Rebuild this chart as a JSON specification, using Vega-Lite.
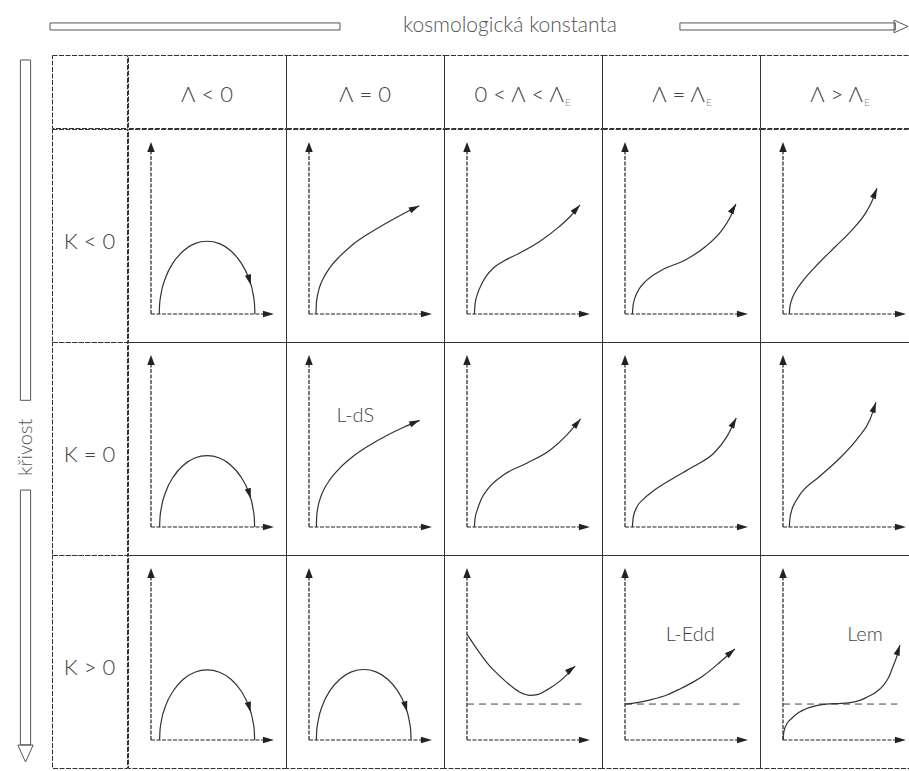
{
  "$schema": "https://vega.github.io/schema/vega-lite/v6.json",
  "background": "white",
  "padding": 0,
  "config": {
    "view": {"stroke": "#333", "strokeDash": [5, 1.5], "strokeWidth": 1},
    "text": {"font": "Lato", "fontWeight": 300, "color": "#444"},
    "concat": {"spacing": 0},
    "facet": {"spacing": 0}
  },
  "datasets": {
    "headers": [
      {"L": "Λ < 0", "main": "Λ < 0", "sub": ""},
      {"L": "Λ = 0", "main": "Λ = 0", "sub": ""},
      {"L": "0 < Λ < ΛE", "main": "0 < Λ < Λ", "sub": "E"},
      {"L": "Λ = ΛE", "main": "Λ = Λ", "sub": "E"},
      {"L": "Λ > ΛE", "main": "Λ > Λ", "sub": "E"}
    ],
    "rows": [{"K": "K < 0"}, {"K": "K = 0"}, {"K": "K > 0"}],
    "cells": [
      {"K": "K < 0", "L": "Λ < 0", "part": "curve", "i": 0, "u": 0.67, "v": 0},
      {"K": "K < 0", "L": "Λ < 0", "part": "curve", "i": 1, "u": 0.70, "v": 0.55},
      {"K": "K < 0", "L": "Λ < 0", "part": "curve", "i": 2, "u": 0.80, "v": 1.10},
      {"K": "K < 0", "L": "Λ < 0", "part": "curve", "i": 3, "u": 1.19, "v": 2.12},
      {"K": "K < 0", "L": "Λ < 0", "part": "curve", "i": 4, "u": 1.81, "v": 2.99},
      {"K": "K < 0", "L": "Λ < 0", "part": "curve", "i": 5, "u": 2.62, "v": 3.66},
      {"K": "K < 0", "L": "Λ < 0", "part": "curve", "i": 6, "u": 3.55, "v": 4.09},
      {"K": "K < 0", "L": "Λ < 0", "part": "curve", "i": 7, "u": 4.56, "v": 4.23},
      {"K": "K < 0", "L": "Λ < 0", "part": "curve", "i": 8, "u": 5.57, "v": 4.09},
      {"K": "K < 0", "L": "Λ < 0", "part": "curve", "i": 9, "u": 6.51, "v": 3.66},
      {"K": "K < 0", "L": "Λ < 0", "part": "curve", "i": 10, "u": 7.31, "v": 2.99},
      {"K": "K < 0", "L": "Λ < 0", "part": "curve", "i": 11, "u": 7.93, "v": 2.12},
      {"K": "K < 0", "L": "Λ < 0", "part": "curve", "i": 12, "u": 8.32, "v": 1.10},
      {"K": "K < 0", "L": "Λ < 0", "part": "curve", "i": 13, "u": 8.42, "v": 0.55},
      {"K": "K < 0", "L": "Λ < 0", "part": "curve", "i": 14, "u": 8.45, "v": 0},
      {"K": "K < 0", "L": "Λ < 0", "part": "head", "u": 8.12, "v": 1.69, "ang": 164},

      {"K": "K < 0", "L": "Λ = 0", "part": "curve", "i": 0, "u": 0.57, "v": 0},
      {"K": "K < 0", "L": "Λ = 0", "part": "curve", "i": 1, "u": 0.60, "v": 0.6},
      {"K": "K < 0", "L": "Λ = 0", "part": "curve", "i": 2, "u": 0.70, "v": 1.1},
      {"K": "K < 0", "L": "Λ = 0", "part": "curve", "i": 3, "u": 0.88, "v": 1.6},
      {"K": "K < 0", "L": "Λ = 0", "part": "curve", "i": 4, "u": 1.2, "v": 2.12},
      {"K": "K < 0", "L": "Λ = 0", "part": "curve", "i": 5, "u": 1.7, "v": 2.7},
      {"K": "K < 0", "L": "Λ = 0", "part": "curve", "i": 6, "u": 2.5, "v": 3.35},
      {"K": "K < 0", "L": "Λ = 0", "part": "curve", "i": 7, "u": 3.5, "v": 4.0},
      {"K": "K < 0", "L": "Λ = 0", "part": "curve", "i": 8, "u": 4.8, "v": 4.65},
      {"K": "K < 0", "L": "Λ = 0", "part": "curve", "i": 9, "u": 6.2, "v": 5.25},
      {"K": "K < 0", "L": "Λ = 0", "part": "curve", "i": 10, "u": 7.6, "v": 5.8},
      {"K": "K < 0", "L": "Λ = 0", "part": "curve", "i": 11, "u": 8.97, "v": 6.29},
      {"K": "K < 0", "L": "Λ = 0", "part": "head", "u": 8.97, "v": 6.29, "ang": 64},

      {"K": "K < 0", "L": "0 < Λ < ΛE", "part": "curve", "i": 0, "u": 0.6, "v": 0},
      {"K": "K < 0", "L": "0 < Λ < ΛE", "part": "curve", "i": 1, "u": 0.66, "v": 0.6},
      {"K": "K < 0", "L": "0 < Λ < ΛE", "part": "curve", "i": 2, "u": 0.87, "v": 1.2},
      {"K": "K < 0", "L": "0 < Λ < ΛE", "part": "curve", "i": 3, "u": 1.2, "v": 1.75},
      {"K": "K < 0", "L": "0 < Λ < ΛE", "part": "curve", "i": 4, "u": 1.54, "v": 2.17},
      {"K": "K < 0", "L": "0 < Λ < ΛE", "part": "curve", "i": 5, "u": 2.2, "v": 2.7},
      {"K": "K < 0", "L": "0 < Λ < ΛE", "part": "curve", "i": 6, "u": 2.9, "v": 3.04},
      {"K": "K < 0", "L": "0 < Λ < ΛE", "part": "curve", "i": 7, "u": 4.25, "v": 3.53},
      {"K": "K < 0", "L": "0 < Λ < ΛE", "part": "curve", "i": 8, "u": 5.88, "v": 4.2},
      {"K": "K < 0", "L": "0 < Λ < ΛE", "part": "curve", "i": 9, "u": 7.5, "v": 5.08},
      {"K": "K < 0", "L": "0 < Λ < ΛE", "part": "curve", "i": 10, "u": 8.4, "v": 5.67},
      {"K": "K < 0", "L": "0 < Λ < ΛE", "part": "curve", "i": 11, "u": 9.19, "v": 6.34},
      {"K": "K < 0", "L": "0 < Λ < ΛE", "part": "head", "u": 9.19, "v": 6.34, "ang": 42},

      {"K": "K < 0", "L": "Λ = ΛE", "part": "curve", "i": 0, "u": 0.6, "v": 0},
      {"K": "K < 0", "L": "Λ = ΛE", "part": "curve", "i": 1, "u": 0.66, "v": 0.5},
      {"K": "K < 0", "L": "Λ = ΛE", "part": "curve", "i": 2, "u": 0.84, "v": 1.0},
      {"K": "K < 0", "L": "Λ = ΛE", "part": "curve", "i": 3, "u": 1.15, "v": 1.45},
      {"K": "K < 0", "L": "Λ = ΛE", "part": "curve", "i": 4, "u": 1.65, "v": 1.88},
      {"K": "K < 0", "L": "Λ = ΛE", "part": "curve", "i": 5, "u": 3.0, "v": 2.56},
      {"K": "K < 0", "L": "Λ = ΛE", "part": "curve", "i": 6, "u": 4.9, "v": 3.14},
      {"K": "K < 0", "L": "Λ = ΛE", "part": "curve", "i": 7, "u": 6.53, "v": 3.91},
      {"K": "K < 0", "L": "Λ = ΛE", "part": "curve", "i": 8, "u": 7.89, "v": 4.88},
      {"K": "K < 0", "L": "Λ = ΛE", "part": "curve", "i": 9, "u": 8.5, "v": 5.55},
      {"K": "K < 0", "L": "Λ = ΛE", "part": "curve", "i": 10, "u": 9.02, "v": 6.4},
      {"K": "K < 0", "L": "Λ = ΛE", "part": "head", "u": 9.02, "v": 6.4, "ang": 30},

      {"K": "K < 0", "L": "Λ > ΛE", "part": "curve", "i": 0, "u": 0.51, "v": 0},
      {"K": "K < 0", "L": "Λ > ΛE", "part": "curve", "i": 1, "u": 0.56, "v": 0.4},
      {"K": "K < 0", "L": "Λ > ΛE", "part": "curve", "i": 2, "u": 0.72, "v": 0.85},
      {"K": "K < 0", "L": "Λ > ΛE", "part": "curve", "i": 3, "u": 1.05, "v": 1.35},
      {"K": "K < 0", "L": "Λ > ΛE", "part": "curve", "i": 4, "u": 1.54, "v": 1.85},
      {"K": "K < 0", "L": "Λ > ΛE", "part": "curve", "i": 5, "u": 2.9, "v": 2.95},
      {"K": "K < 0", "L": "Λ > ΛE", "part": "curve", "i": 6, "u": 4.25, "v": 3.91},
      {"K": "K < 0", "L": "Λ > ΛE", "part": "curve", "i": 7, "u": 5.6, "v": 4.88},
      {"K": "K < 0", "L": "Λ > ΛE", "part": "curve", "i": 8, "u": 6.7, "v": 5.85},
      {"K": "K < 0", "L": "Λ > ΛE", "part": "curve", "i": 9, "u": 7.2, "v": 6.5},
      {"K": "K < 0", "L": "Λ > ΛE", "part": "curve", "i": 10, "u": 7.64, "v": 7.31},
      {"K": "K < 0", "L": "Λ > ΛE", "part": "head", "u": 7.64, "v": 7.31, "ang": 22},

      {"K": "K = 0", "L": "Λ < 0", "part": "curve", "i": 0, "u": 0.70, "v": 0},
      {"K": "K = 0", "L": "Λ < 0", "part": "curve", "i": 1, "u": 0.73, "v": 0.54},
      {"K": "K = 0", "L": "Λ < 0", "part": "curve", "i": 2, "u": 0.83, "v": 1.07},
      {"K": "K = 0", "L": "Λ < 0", "part": "curve", "i": 3, "u": 1.22, "v": 2.08},
      {"K": "K = 0", "L": "Λ < 0", "part": "curve", "i": 4, "u": 1.83, "v": 2.93},
      {"K": "K = 0", "L": "Λ < 0", "part": "curve", "i": 5, "u": 2.63, "v": 3.59},
      {"K": "K = 0", "L": "Λ < 0", "part": "curve", "i": 6, "u": 3.56, "v": 4.01},
      {"K": "K = 0", "L": "Λ < 0", "part": "curve", "i": 7, "u": 4.565, "v": 4.15},
      {"K": "K = 0", "L": "Λ < 0", "part": "curve", "i": 8, "u": 5.57, "v": 4.01},
      {"K": "K = 0", "L": "Λ < 0", "part": "curve", "i": 9, "u": 6.50, "v": 3.59},
      {"K": "K = 0", "L": "Λ < 0", "part": "curve", "i": 10, "u": 7.30, "v": 2.93},
      {"K": "K = 0", "L": "Λ < 0", "part": "curve", "i": 11, "u": 7.91, "v": 2.08},
      {"K": "K = 0", "L": "Λ < 0", "part": "curve", "i": 12, "u": 8.30, "v": 1.07},
      {"K": "K = 0", "L": "Λ < 0", "part": "curve", "i": 13, "u": 8.40, "v": 0.54},
      {"K": "K = 0", "L": "Λ < 0", "part": "curve", "i": 14, "u": 8.43, "v": 0},
      {"K": "K = 0", "L": "Λ < 0", "part": "head", "u": 8.11, "v": 1.65, "ang": 164},

      {"K": "K = 0", "L": "Λ = 0", "part": "curve", "i": 0, "u": 0.6, "v": 0},
      {"K": "K = 0", "L": "Λ = 0", "part": "curve", "i": 1, "u": 0.63, "v": 0.65},
      {"K": "K = 0", "L": "Λ = 0", "part": "curve", "i": 2, "u": 0.72, "v": 1.13},
      {"K": "K = 0", "L": "Λ = 0", "part": "curve", "i": 3, "u": 0.9, "v": 1.63},
      {"K": "K = 0", "L": "Λ = 0", "part": "curve", "i": 4, "u": 1.2, "v": 2.16},
      {"K": "K = 0", "L": "Λ = 0", "part": "curve", "i": 5, "u": 1.7, "v": 2.75},
      {"K": "K = 0", "L": "Λ = 0", "part": "curve", "i": 6, "u": 2.5, "v": 3.42},
      {"K": "K = 0", "L": "Λ = 0", "part": "curve", "i": 7, "u": 3.6, "v": 4.11},
      {"K": "K = 0", "L": "Λ = 0", "part": "curve", "i": 8, "u": 4.9, "v": 4.74},
      {"K": "K = 0", "L": "Λ = 0", "part": "curve", "i": 9, "u": 6.4, "v": 5.35},
      {"K": "K = 0", "L": "Λ = 0", "part": "curve", "i": 10, "u": 7.7, "v": 5.80},
      {"K": "K = 0", "L": "Λ = 0", "part": "curve", "i": 11, "u": 9.0, "v": 6.2},
      {"K": "K = 0", "L": "Λ = 0", "part": "head", "u": 9.0, "v": 6.2, "ang": 67},
      {"K": "K = 0", "L": "Λ = 0", "part": "name", "u": 3.77, "v": 6.45, "txt": "L-dS"},

      {"K": "K = 0", "L": "0 < Λ < ΛE", "part": "curve", "i": 0, "u": 0.6, "v": 0},
      {"K": "K = 0", "L": "0 < Λ < ΛE", "part": "curve", "i": 1, "u": 0.66, "v": 0.5},
      {"K": "K = 0", "L": "0 < Λ < ΛE", "part": "curve", "i": 2, "u": 0.84, "v": 1.0},
      {"K": "K = 0", "L": "0 < Λ < ΛE", "part": "curve", "i": 3, "u": 1.15, "v": 1.6},
      {"K": "K = 0", "L": "0 < Λ < ΛE", "part": "curve", "i": 4, "u": 1.65, "v": 2.17},
      {"K": "K = 0", "L": "0 < Λ < ΛE", "part": "curve", "i": 5, "u": 3.0, "v": 3.04},
      {"K": "K = 0", "L": "0 < Λ < ΛE", "part": "curve", "i": 6, "u": 4.9, "v": 3.72},
      {"K": "K = 0", "L": "0 < Λ < ΛE", "part": "curve", "i": 7, "u": 6.8, "v": 4.49},
      {"K": "K = 0", "L": "0 < Λ < ΛE", "part": "curve", "i": 8, "u": 8.15, "v": 5.37},
      {"K": "K = 0", "L": "0 < Λ < ΛE", "part": "curve", "i": 9, "u": 9.24, "v": 6.28},
      {"K": "K = 0", "L": "0 < Λ < ΛE", "part": "head", "u": 9.24, "v": 6.28, "ang": 40},

      {"K": "K = 0", "L": "Λ = ΛE", "part": "curve", "i": 0, "u": 0.6, "v": 0},
      {"K": "K = 0", "L": "Λ = ΛE", "part": "curve", "i": 1, "u": 0.68, "v": 0.6},
      {"K": "K = 0", "L": "Λ = ΛE", "part": "curve", "i": 2, "u": 1.0, "v": 1.2},
      {"K": "K = 0", "L": "Λ = ΛE", "part": "curve", "i": 3, "u": 1.5, "v": 1.62},
      {"K": "K = 0", "L": "Λ = ΛE", "part": "curve", "i": 4, "u": 2.09, "v": 1.98},
      {"K": "K = 0", "L": "Λ = ΛE", "part": "curve", "i": 5, "u": 3.72, "v": 2.75},
      {"K": "K = 0", "L": "Λ = ΛE", "part": "curve", "i": 6, "u": 5.6, "v": 3.53},
      {"K": "K = 0", "L": "Λ = ΛE", "part": "curve", "i": 7, "u": 7.24, "v": 4.3},
      {"K": "K = 0", "L": "Λ = ΛE", "part": "curve", "i": 8, "u": 8.3, "v": 5.27},
      {"K": "K = 0", "L": "Λ = ΛE", "part": "curve", "i": 9, "u": 9.05, "v": 6.34},
      {"K": "K = 0", "L": "Λ = ΛE", "part": "head", "u": 9.05, "v": 6.34, "ang": 28},

      {"K": "K = 0", "L": "Λ > ΛE", "part": "curve", "i": 0, "u": 0.51, "v": 0},
      {"K": "K = 0", "L": "Λ > ΛE", "part": "curve", "i": 1, "u": 0.56, "v": 0.45},
      {"K": "K = 0", "L": "Λ > ΛE", "part": "curve", "i": 2, "u": 0.7, "v": 0.95},
      {"K": "K = 0", "L": "Λ > ΛE", "part": "curve", "i": 3, "u": 1.0, "v": 1.45},
      {"K": "K = 0", "L": "Λ > ΛE", "part": "curve", "i": 4, "u": 1.45, "v": 1.95},
      {"K": "K = 0", "L": "Λ > ΛE", "part": "curve", "i": 5, "u": 3.0, "v": 2.95},
      {"K": "K = 0", "L": "Λ > ΛE", "part": "curve", "i": 6, "u": 4.63, "v": 4.01},
      {"K": "K = 0", "L": "Λ > ΛE", "part": "curve", "i": 7, "u": 5.99, "v": 5.08},
      {"K": "K = 0", "L": "Λ > ΛE", "part": "curve", "i": 8, "u": 7.07, "v": 6.24},
      {"K": "K = 0", "L": "Λ > ΛE", "part": "curve", "i": 9, "u": 7.56, "v": 7.25},
      {"K": "K = 0", "L": "Λ > ΛE", "part": "head", "u": 7.56, "v": 7.25, "ang": 19},

      {"K": "K > 0", "L": "Λ < 0", "part": "curve", "i": 0, "u": 0.70, "v": 0},
      {"K": "K > 0", "L": "Λ < 0", "part": "curve", "i": 1, "u": 0.73, "v": 0.53},
      {"K": "K > 0", "L": "Λ < 0", "part": "curve", "i": 2, "u": 0.83, "v": 1.06},
      {"K": "K > 0", "L": "Λ < 0", "part": "curve", "i": 3, "u": 1.22, "v": 2.04},
      {"K": "K > 0", "L": "Λ < 0", "part": "curve", "i": 4, "u": 1.83, "v": 2.88},
      {"K": "K > 0", "L": "Λ < 0", "part": "curve", "i": 5, "u": 2.63, "v": 3.53},
      {"K": "K > 0", "L": "Λ < 0", "part": "curve", "i": 6, "u": 3.56, "v": 3.94},
      {"K": "K > 0", "L": "Λ < 0", "part": "curve", "i": 7, "u": 4.565, "v": 4.08},
      {"K": "K > 0", "L": "Λ < 0", "part": "curve", "i": 8, "u": 5.57, "v": 3.94},
      {"K": "K > 0", "L": "Λ < 0", "part": "curve", "i": 9, "u": 6.50, "v": 3.53},
      {"K": "K > 0", "L": "Λ < 0", "part": "curve", "i": 10, "u": 7.30, "v": 2.88},
      {"K": "K > 0", "L": "Λ < 0", "part": "curve", "i": 11, "u": 7.91, "v": 2.04},
      {"K": "K > 0", "L": "Λ < 0", "part": "curve", "i": 12, "u": 8.30, "v": 1.06},
      {"K": "K > 0", "L": "Λ < 0", "part": "curve", "i": 13, "u": 8.40, "v": 0.53},
      {"K": "K > 0", "L": "Λ < 0", "part": "curve", "i": 14, "u": 8.43, "v": 0},
      {"K": "K > 0", "L": "Λ < 0", "part": "head", "u": 8.11, "v": 1.62, "ang": 164},

      {"K": "K > 0", "L": "Λ = 0", "part": "curve", "i": 0, "u": 0.60, "v": 0},
      {"K": "K > 0", "L": "Λ = 0", "part": "curve", "i": 1, "u": 0.63, "v": 0.54},
      {"K": "K > 0", "L": "Λ = 0", "part": "curve", "i": 2, "u": 0.73, "v": 1.06},
      {"K": "K > 0", "L": "Λ = 0", "part": "curve", "i": 3, "u": 1.12, "v": 2.05},
      {"K": "K > 0", "L": "Λ = 0", "part": "curve", "i": 4, "u": 1.73, "v": 2.90},
      {"K": "K > 0", "L": "Λ = 0", "part": "curve", "i": 5, "u": 2.53, "v": 3.55},
      {"K": "K > 0", "L": "Λ = 0", "part": "curve", "i": 6, "u": 3.45, "v": 3.96},
      {"K": "K > 0", "L": "Λ = 0", "part": "curve", "i": 7, "u": 4.45, "v": 4.1},
      {"K": "K > 0", "L": "Λ = 0", "part": "curve", "i": 8, "u": 5.45, "v": 3.96},
      {"K": "K > 0", "L": "Λ = 0", "part": "curve", "i": 9, "u": 6.38, "v": 3.55},
      {"K": "K > 0", "L": "Λ = 0", "part": "curve", "i": 10, "u": 7.17, "v": 2.90},
      {"K": "K > 0", "L": "Λ = 0", "part": "curve", "i": 11, "u": 7.78, "v": 2.05},
      {"K": "K > 0", "L": "Λ = 0", "part": "curve", "i": 12, "u": 8.17, "v": 1.06},
      {"K": "K > 0", "L": "Λ = 0", "part": "curve", "i": 13, "u": 8.27, "v": 0.54},
      {"K": "K > 0", "L": "Λ = 0", "part": "curve", "i": 14, "u": 8.30, "v": 0},
      {"K": "K > 0", "L": "Λ = 0", "part": "head", "u": 7.98, "v": 1.64, "ang": 164},

      {"K": "K > 0", "L": "0 < Λ < ΛE", "part": "curve", "i": 0, "u": 0, "v": 6.16},
      {"K": "K > 0", "L": "0 < Λ < ΛE", "part": "curve", "i": 1, "u": 0.8, "v": 5.3},
      {"K": "K > 0", "L": "0 < Λ < ΛE", "part": "curve", "i": 2, "u": 1.6, "v": 4.52},
      {"K": "K > 0", "L": "0 < Λ < ΛE", "part": "curve", "i": 3, "u": 2.4, "v": 3.9},
      {"K": "K > 0", "L": "0 < Λ < ΛE", "part": "curve", "i": 4, "u": 3.23, "v": 3.35},
      {"K": "K > 0", "L": "0 < Λ < ΛE", "part": "curve", "i": 5, "u": 4.31, "v": 2.78},
      {"K": "K > 0", "L": "0 < Λ < ΛE", "part": "curve", "i": 6, "u": 5.12, "v": 2.6},
      {"K": "K > 0", "L": "0 < Λ < ΛE", "part": "curve", "i": 7, "u": 5.8, "v": 2.65},
      {"K": "K > 0", "L": "0 < Λ < ΛE", "part": "curve", "i": 8, "u": 6.48, "v": 2.9},
      {"K": "K > 0", "L": "0 < Λ < ΛE", "part": "curve", "i": 9, "u": 7.6, "v": 3.45},
      {"K": "K > 0", "L": "0 < Λ < ΛE", "part": "curve", "i": 10, "u": 8.8, "v": 4.3},
      {"K": "K > 0", "L": "0 < Λ < ΛE", "part": "head", "u": 8.8, "v": 4.3, "ang": 52},
      {"K": "K > 0", "L": "0 < Λ < ΛE", "part": "asym", "v": 2.09},

      {"K": "K > 0", "L": "Λ = ΛE", "part": "curve", "i": 0, "u": 0, "v": 2.09},
      {"K": "K > 0", "L": "Λ = ΛE", "part": "curve", "i": 1, "u": 1.2, "v": 2.2},
      {"K": "K > 0", "L": "Λ = ΛE", "part": "curve", "i": 2, "u": 2.3, "v": 2.38},
      {"K": "K > 0", "L": "Λ = ΛE", "part": "curve", "i": 3, "u": 3.4, "v": 2.62},
      {"K": "K > 0", "L": "Λ = ΛE", "part": "curve", "i": 4, "u": 4.47, "v": 2.97},
      {"K": "K > 0", "L": "Λ = ΛE", "part": "curve", "i": 5, "u": 5.5, "v": 3.35},
      {"K": "K > 0", "L": "Λ = ΛE", "part": "curve", "i": 6, "u": 6.37, "v": 3.74},
      {"K": "K > 0", "L": "Λ = ΛE", "part": "curve", "i": 7, "u": 7.72, "v": 4.52},
      {"K": "K > 0", "L": "Λ = ΛE", "part": "curve", "i": 8, "u": 8.94, "v": 5.29},
      {"K": "K > 0", "L": "Λ = ΛE", "part": "head", "u": 8.94, "v": 5.29, "ang": 50},
      {"K": "K > 0", "L": "Λ = ΛE", "part": "asym", "v": 2.09},
      {"K": "K > 0", "L": "Λ = ΛE", "part": "name", "u": 5.31, "v": 6.12, "txt": "L-Edd"},

      {"K": "K > 0", "L": "Λ > ΛE", "part": "curve", "i": 0, "u": 0, "v": 0},
      {"K": "K > 0", "L": "Λ > ΛE", "part": "curve", "i": 1, "u": 0.08, "v": 0.5},
      {"K": "K > 0", "L": "Λ > ΛE", "part": "curve", "i": 2, "u": 0.3, "v": 0.93},
      {"K": "K > 0", "L": "Λ > ΛE", "part": "curve", "i": 3, "u": 0.7, "v": 1.25},
      {"K": "K > 0", "L": "Λ > ΛE", "part": "curve", "i": 4, "u": 1.11, "v": 1.51},
      {"K": "K > 0", "L": "Λ > ΛE", "part": "curve", "i": 5, "u": 2.2, "v": 1.9},
      {"K": "K > 0", "L": "Λ > ΛE", "part": "curve", "i": 6, "u": 3.55, "v": 2.09},
      {"K": "K > 0", "L": "Λ > ΛE", "part": "curve", "i": 7, "u": 4.5, "v": 2.12},
      {"K": "K > 0", "L": "Λ > ΛE", "part": "curve", "i": 8, "u": 5.45, "v": 2.17},
      {"K": "K > 0", "L": "Λ > ΛE", "part": "curve", "i": 9, "u": 6.3, "v": 2.32},
      {"K": "K > 0", "L": "Λ > ΛE", "part": "curve", "i": 10, "u": 6.8, "v": 2.48},
      {"K": "K > 0", "L": "Λ > ΛE", "part": "curve", "i": 11, "u": 7.5, "v": 2.75},
      {"K": "K > 0", "L": "Λ > ΛE", "part": "curve", "i": 12, "u": 8.15, "v": 3.16},
      {"K": "K > 0", "L": "Λ > ΛE", "part": "curve", "i": 13, "u": 8.6, "v": 3.65},
      {"K": "K > 0", "L": "Λ > ΛE", "part": "curve", "i": 14, "u": 8.97, "v": 4.32},
      {"K": "K > 0", "L": "Λ > ΛE", "part": "curve", "i": 15, "u": 9.3, "v": 4.95},
      {"K": "K > 0", "L": "Λ > ΛE", "part": "curve", "i": 16, "u": 9.51, "v": 5.52},
      {"K": "K > 0", "L": "Λ > ΛE", "part": "head", "u": 9.51, "v": 5.52, "ang": 18},
      {"K": "K > 0", "L": "Λ > ΛE", "part": "asym", "v": 2.09},
      {"K": "K > 0", "L": "Λ > ΛE", "part": "name", "u": 6.67, "v": 6.12, "txt": "Lem"}
    ]
  },
  "vconcat": [
    {
      "width": 909,
      "height": 54,
      "view": {"stroke": null},
      "data": {"values": [{"t": "kosmologická konstanta"}]},
      "layer": [
        {
          "mark": {"type": "rect", "fill": "white", "stroke": "#555", "strokeWidth": 1},
          "encoding": {
            "x": {"datum": 5.5, "type": "quantitative", "scale": {"domain": [0, 100]}, "axis": null},
            "x2": {"datum": 37.4},
            "y": {"datum": 0.575, "type": "quantitative", "scale": {"domain": [0, 1]}, "axis": null},
            "y2": {"datum": 0.445}
          }
        },
        {
          "mark": {"type": "rect", "fill": "white", "stroke": "#555", "strokeWidth": 1},
          "encoding": {
            "x": {"datum": 74.8, "type": "quantitative"},
            "x2": {"datum": 98.5},
            "y": {"datum": 0.575, "type": "quantitative"},
            "y2": {"datum": 0.445}
          }
        },
        {
          "mark": {"type": "point", "shape": "M0,0L-0.9,2L0.9,2Z", "size": 196, "filled": false, "stroke": "#555", "strokeWidth": 1, "opacity": 1, "angle": 90},
          "encoding": {
            "x": {"datum": 99.9, "type": "quantitative"},
            "y": {"datum": 0.51, "type": "quantitative"}
          }
        },
        {
          "mark": {"type": "text", "fontSize": 21, "color": "#555"},
          "encoding": {
            "x": {"datum": 56.1, "type": "quantitative"},
            "y": {"datum": 0.51, "type": "quantitative"},
            "text": {"field": "t", "type": "nominal"}
          }
        }
      ]
    },
    {
      "hconcat": [
        {
          "width": 51,
          "height": 712,
          "view": {"stroke": null},
          "data": {"values": [{"t": "křivost"}]},
          "layer": [
            {
              "mark": {"type": "rect", "fill": "white", "stroke": "#555", "strokeWidth": 1},
              "encoding": {
                "x": {"datum": 0.4, "type": "quantitative", "scale": {"domain": [0, 1]}, "axis": null},
                "x2": {"datum": 0.6},
                "y": {"datum": 0.007, "type": "quantitative", "scale": {"domain": [0, 1], "reverse": true}, "axis": null},
                "y2": {"datum": 0.485}
              }
            },
            {
              "mark": {"type": "rect", "fill": "white", "stroke": "#555", "strokeWidth": 1},
              "encoding": {
                "x": {"datum": 0.4, "type": "quantitative"},
                "x2": {"datum": 0.6},
                "y": {"datum": 0.611, "type": "quantitative"},
                "y2": {"datum": 0.969}
              }
            },
            {
              "mark": {"type": "point", "shape": "M0,0L-0.9,2L0.9,2Z", "size": 289, "filled": false, "stroke": "#555", "strokeWidth": 1, "opacity": 1, "angle": 180},
              "encoding": {
                "x": {"datum": 0.5, "type": "quantitative"},
                "y": {"datum": 0.993, "type": "quantitative"}
              }
            },
            {
              "mark": {"type": "text", "fontSize": 20, "angle": 270, "color": "#555"},
              "encoding": {
                "x": {"datum": 0.5, "type": "quantitative"},
                "y": {"datum": 0.551, "type": "quantitative"},
                "text": {"field": "t", "type": "nominal"}
              }
            }
          ]
        },
        {
          "spacing": -3,
          "vconcat": [
            {
              "spacing": -3,
              "hconcat": [
                {
                  "width": 75,
                  "height": 73,
                  "data": {"values": [{"t": ""}]},
                  "mark": {"type": "text"},
                  "encoding": {
                    "x": {"datum": 0.5, "type": "quantitative", "scale": {"domain": [0, 1]}, "axis": null},
                    "y": {"datum": 0.5, "type": "quantitative", "scale": {"domain": [0, 1]}, "axis": null},
                    "text": {"field": "t", "type": "nominal"}
                  }
                },
                {
                  "data": {"name": "headers"},
                  "facet": {"column": {"field": "L", "type": "nominal", "sort": ["Λ < 0", "Λ = 0", "0 < Λ < ΛE", "Λ = ΛE", "Λ > ΛE"], "header": null}},
                  "spacing": 0,
                  "bounds": "flush",
                  "spec": {
                    "width": 158,
                    "height": 73,
                    "encoding": {
                      "x": {"datum": 0.5, "type": "quantitative", "scale": {"domain": [0, 1]}, "axis": null},
                      "y": {"datum": 0.5, "type": "quantitative", "scale": {"domain": [0, 1]}, "axis": null}
                    },
                    "layer": [
                      {
                        "transform": [{"filter": "datum.sub == ''"}],
                        "mark": {"type": "text", "fontSize": 22, "dy": 3},
                        "encoding": {"text": {"field": "main", "type": "nominal"}}
                      },
                      {
                        "transform": [{"filter": "datum.L == '0 < Λ < ΛE'"}],
                        "mark": {"type": "text", "fontSize": 22, "dy": 3, "align": "right", "dx": 41},
                        "encoding": {"text": {"field": "main", "type": "nominal"}}
                      },
                      {
                        "transform": [{"filter": "datum.L == '0 < Λ < ΛE'"}],
                        "mark": {"type": "text", "fontSize": 10, "dy": 11, "align": "left", "dx": 42, "color": "#888"},
                        "encoding": {"text": {"field": "sub", "type": "nominal"}}
                      },
                      {
                        "transform": [{"filter": "datum.L == 'Λ = ΛE' || datum.L == 'Λ > ΛE'"}],
                        "mark": {"type": "text", "fontSize": 22, "dy": 3, "align": "right", "dx": 24},
                        "encoding": {"text": {"field": "main", "type": "nominal"}}
                      },
                      {
                        "transform": [{"filter": "datum.L == 'Λ = ΛE' || datum.L == 'Λ > ΛE'"}],
                        "mark": {"type": "text", "fontSize": 10, "dy": 11, "align": "left", "dx": 25, "color": "#888"},
                        "encoding": {"text": {"field": "sub", "type": "nominal"}}
                      }
                    ]
                  }
                }
              ]
            },
            {
              "spacing": -3,
              "hconcat": [
                {
                  "data": {"name": "rows"},
                  "facet": {"row": {"field": "K", "type": "nominal", "sort": ["K < 0", "K = 0", "K > 0"], "header": null}},
                  "spacing": 0,
                  "bounds": "flush",
                  "spec": {
                    "width": 75,
                    "height": 213,
                    "mark": {"type": "text", "fontSize": 22, "dy": 6},
                    "encoding": {
                      "x": {"datum": 0.5, "type": "quantitative", "scale": {"domain": [0, 1]}, "axis": null},
                      "y": {"datum": 0.5, "type": "quantitative", "scale": {"domain": [0, 1]}, "axis": null},
                      "text": {"field": "K", "type": "nominal"}
                    }
                  }
                },
                {
                  "data": {"name": "cells"},
                  "facet": {
                    "row": {"field": "K", "type": "nominal", "sort": ["K < 0", "K = 0", "K > 0"], "header": null},
                    "column": {"field": "L", "type": "nominal", "sort": ["Λ < 0", "Λ = 0", "0 < Λ < ΛE", "Λ = ΛE", "Λ > ΛE"], "header": null}
                  },
                  "spacing": 0,
                  "bounds": "flush",
                  "spec": {
                    "width": 158,
                    "height": 213,
                    "layer": [
                      {
                        "transform": [{"filter": "datum.part == 'curve' && datum.i == 0"}],
                        "mark": {"type": "rule", "color": "#222", "strokeWidth": 1.2, "strokeDash": [4, 1.5]},
                        "encoding": {
                          "x": {"datum": 0, "type": "quantitative", "scale": {"domain": [-1.87, 10.98], "nice": false, "zero": false}, "axis": null},
                          "y": {"datum": 0, "type": "quantitative", "scale": {"domain": [-1.628, 10.756], "nice": false, "zero": false}, "axis": null},
                          "y2": {"datum": 9.5}
                        }
                      },
                      {
                        "transform": [{"filter": "datum.part == 'curve' && datum.i == 0"}],
                        "mark": {"type": "rule", "color": "#222", "strokeWidth": 1.2, "strokeDash": [4, 1.5]},
                        "encoding": {
                          "x": {"datum": 0, "type": "quantitative"},
                          "x2": {"datum": 9.5},
                          "y": {"datum": 0, "type": "quantitative"}
                        }
                      },
                      {
                        "transform": [{"filter": "datum.part == 'curve' && datum.i == 0"}],
                        "mark": {"type": "point", "shape": "M0,0L-0.75,2L0.75,2Z", "size": 100, "filled": true, "color": "#222", "opacity": 1, "angle": 0},
                        "encoding": {
                          "x": {"datum": 0, "type": "quantitative"},
                          "y": {"datum": 10, "type": "quantitative"}
                        }
                      },
                      {
                        "transform": [{"filter": "datum.part == 'curve' && datum.i == 0"}],
                        "mark": {"type": "point", "shape": "M0,0L-0.6,2L0.6,2Z", "size": 121, "filled": true, "color": "#222", "opacity": 1, "angle": 90},
                        "encoding": {
                          "x": {"datum": 10, "type": "quantitative"},
                          "y": {"datum": 0, "type": "quantitative"}
                        }
                      },
                      {
                        "transform": [{"filter": "datum.part == 'asym'"}],
                        "mark": {"type": "rule", "color": "#444", "strokeWidth": 1, "strokeDash": [7, 5]},
                        "encoding": {
                          "x": {"datum": 0, "type": "quantitative"},
                          "x2": {"datum": 9.3},
                          "y": {"field": "v", "type": "quantitative"}
                        }
                      },
                      {
                        "transform": [{"filter": "datum.part == 'curve'"}],
                        "mark": {"type": "line", "color": "#333", "strokeWidth": 1.2, "interpolate": "monotone"},
                        "encoding": {
                          "x": {"field": "u", "type": "quantitative"},
                          "y": {"field": "v", "type": "quantitative"},
                          "order": {"field": "i", "type": "quantitative"}
                        }
                      },
                      {
                        "transform": [{"filter": "datum.part == 'head'"}],
                        "mark": {"type": "point", "shape": "M0,0L-0.6,2L0.6,2Z", "size": 110, "filled": true, "color": "#222", "opacity": 1},
                        "encoding": {
                          "x": {"field": "u", "type": "quantitative"},
                          "y": {"field": "v", "type": "quantitative"},
                          "angle": {"field": "ang", "type": "quantitative", "scale": null}
                        }
                      },
                      {
                        "transform": [{"filter": "datum.part == 'name'"}],
                        "mark": {"type": "text", "fontSize": 20, "color": "#444"},
                        "encoding": {
                          "x": {"field": "u", "type": "quantitative"},
                          "y": {"field": "v", "type": "quantitative"},
                          "text": {"field": "txt", "type": "nominal"}
                        }
                      }
                    ]
                  }
                }
              ]
            }
          ]
        }
      ]
    }
  ]
}
